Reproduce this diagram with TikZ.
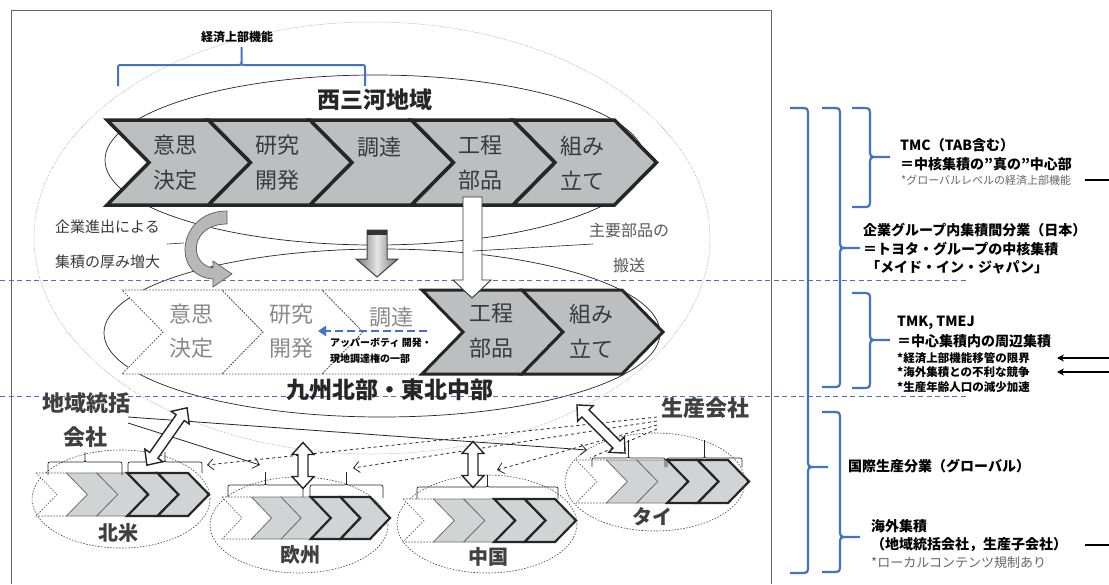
\documentclass[tikz,border=0pt]{standalone}
\usepackage{fontspec}
\setmainfont{Noto Sans CJK JP}
\usetikzlibrary{arrows.meta}
\definecolor{bl}{HTML}{4472C4}
\definecolor{chev}{HTML}{BDBEC0}
\definecolor{chevl}{HTML}{D2D3D5}
\definecolor{txt}{HTML}{3A3A3A}
\definecolor{ltxt}{HTML}{8A8A8A}
\newcommand{\myfs}[2]{\fontsize{#1}{#2}\selectfont}
\newcommand{\mychev}[6]{\filldraw[#1] (#2,#3) -- ({#2+#5},#3) -- ({#2+#5+#6},{(#3+#4)/2}) -- ({#2+#5},#4) -- (#2,#4) -- ({#2+#6},{(#3+#4)/2}) -- cycle;}
\newcommand{\regstrip}[5]{%
 \mychev{dotchev}{#1}{#2}{#3}{#4}{#5}
 \mychev{thinchev}{#1+#4}{#2}{#3}{#4}{#5}
 \mychev{thinchev}{#1+2*#4}{#2}{#3}{#4}{#5}
 \mychev{thickchev}{#1+3*#4}{#2}{#3}{#4}{#5}
 \mychev{thickchev}{#1+4*#4}{#2}{#3}{#4}{#5}}
\newcommand{\smallbrace}[6]{\draw[#1] (#2,#4) -- (#2,{#5+4}) .. controls (#2,#5) .. ({#2+4},#5) -- ({(#2+#3)/2-4},#5) .. controls ({(#2+#3)/2},#5) .. ({(#2+#3)/2},{#5-4}) -- ({(#2+#3)/2},#6) -- ({(#2+#3)/2},{#5-4}) .. controls ({(#2+#3)/2},#5) .. ({(#2+#3)/2+4},#5) -- ({#3-4},#5) .. controls (#3,#5) .. (#3,{#5+4}) -- (#3,#4);}
\newcommand{\sidebrace}[5]{\draw[sbr] ({#1-18},#2) -- ({#1-8},#2) .. controls (#1,#2) .. (#1,{#2+8}) -- (#1,{#4-8}) .. controls (#1,#4) .. ({#1+8},#4) -- (#5,#4) -- ({#1+8},#4) .. controls (#1,#4) .. (#1,{#4+8}) -- (#1,{#3-8}) .. controls (#1,#3) .. ({#1-8},#3) -- ({#1-18},#3);}
\newcommand{\dblarr}[4]{\begin{scope}[shift={(#1,#2)},rotate=#3]
 \filldraw[fill=white,draw=black!85,line width=1.4pt,line join=miter] ({-#4/2},0) -- ({-#4/2+12},11) -- ({-#4/2+12},5) -- ({#4/2-12},5) -- ({#4/2-12},11) -- ({#4/2},0) -- ({#4/2-12},-11) -- ({#4/2-12},-5) -- ({-#4/2+12},-5) -- ({-#4/2+12},-11) -- cycle;
\end{scope}}
\begin{document}
\begin{tikzpicture}[x=1pt,y=-1pt,
  every node/.style={inner sep=0pt},
  upchev/.style={fill=chev,draw=black!85,line width=3.5pt,line join=miter},
  lochev/.style={fill=chev,draw=black!85,line width=3pt,line join=miter},
  lodot/.style={fill=white,draw=black!70,line width=0.8pt,dash pattern=on 1.5pt off 1.5pt},
  dotchev/.style={fill=white,draw=black!70,line width=0.6pt,dash pattern=on 1.5pt off 1.5pt},
  thinchev/.style={fill=chevl,draw=black!55,line width=0.8pt,line join=miter},
  thickchev/.style={fill=chevl,draw=black!85,line width=2.2pt,line join=miter},
  ct/.style={font=\myfs{22}{35},text=txt,align=center},
  lct/.style={font=\myfs{22}{34},text=ltxt,align=center},
  rt/.style={anchor=west,font=\bfseries\myfs{14}{16},text=black},
  rts/.style={anchor=west,font=\bfseries\myfs{11.5}{13},text=black},
  reg/.style={font=\bfseries\myfs{20}{22},text=black!75},
  lab/.style={font=\bfseries\myfs{22}{24},text=black!75},
  big/.style={font=\bfseries\myfs{23}{25},text=black!85},
  sbr/.style={bl,line width=2.2pt},
  bdash/.style={bl,line width=0.9pt,dash pattern=on 5pt off 3.5pt},
  rell/.style={draw=black!75,line width=0.6pt,dash pattern=on 1.5pt off 1.5pt},
  barb/.style={-{Straight Barb[length=6pt,width=11pt]}}
]
\useasboundingbox (0,0) rectangle (1109,584);
\fill[white] (0,0) rectangle (1109,584);
% frame
\draw[black!60,line width=0.9pt] (11,584) -- (11,10) -- (771,10) -- (771,584);
% big dotted ellipse
\draw[black!45,line width=0.5pt,densely dotted] (372,238) ellipse [x radius=338pt,y radius=216pt];
% upper / lower ellipses
\draw[black!85,line width=0.7pt] (375,160) ellipse [x radius=270pt,y radius=85pt];
\draw[black!85,line width=0.7pt] (382,333) ellipse [x radius=278pt,y radius=84pt];
% blue dashed separators
\draw[bdash] (0,280) -- (967,280);
\draw[bdash] (0,396) -- (967,396);

% top brace + label
\smallbrace{bl,line width=2pt}{118}{365}{86}{65}{47}
\node[font=\bfseries\myfs{12}{14}] (keizai) at (237,37) {経済上部機能};
\node[big] (nishi) at (375,100) {西三河地域};

% upper chevrons
\foreach \i in {0,...,4}{\mychev{upchev}{107+\i*101.5}{120}{205}{101.5}{42}}
\node[ct] (u1) at (175,163) {意思\\決定};
\node[ct] (u2) at (277,163) {研究\\開発};
\node[ct] (u3) at (379,147) {調達};
\node[ct] (u4) at (480,163) {工程\\部品};
\node[ct] (u5) at (582,163) {組み\\立て};

% lower chevrons
\foreach \i in {0,1,2}{\mychev{lodot}{122+\i*100}{290}{374}{100}{41}}
\foreach \i in {3,4}{\mychev{lochev}{122+\i*100}{290}{374}{100}{41}}
\node[lct] (l1) at (191,331) {意思\\決定};
\node[lct] (l2) at (291,331) {研究\\開発};
\node[lct] (l3) at (391,317) {調達};
\node[ct] (l4) at (491,331) {工程\\部品};
\node[ct] (l5) at (591,331) {組み\\立て};
\node[big] (kyushu) at (390,390) {九州北部・東北中部};

% blue dashed arrow and its label
\coordinate (ba1) at (427,331);
\coordinate (ba2) at (318,331);
\draw[bl,line width=2.6pt,dash pattern=on 8pt off 4pt,-{Triangle[length=8pt,width=10pt]}] (ba1) -- (ba2);
\node[anchor=west,font=\bfseries\myfs{10}{16},align=left] (upper) at (330,351) {アッパーボティ 開発・\\現地調達権の一部};

% curved arrow
\filldraw[fill=black!28,draw=black!65,line width=0.7pt] (227,211) .. controls (178,211) and (170,276) .. (213,279) -- (213,287) -- (232,274) -- (213,261) -- (213,268) .. controls (188,264) and (190,224) .. (227,224) -- cycle;
\node[anchor=west,font=\myfs{15}{17},text=txt] (kigyo) at (55,227) {企業進出による};
\node[anchor=west,font=\myfs{15}{17},text=txt] (atsumi) at (55,262) {集積の厚み増大};
\coordinate (kl1) at (167,244);
\coordinate (kl2) at (184,243);
\draw[black!80,line width=0.6pt] (kl1) -- (kl2);

% gray down arrow
\shadedraw[draw=black!75,line width=1pt,left color=black!55,right color=black!55,middle color=black!10,line join=miter] (367,230) -- (387,230) -- (387,259) -- (398,259) -- (377,277) -- (356,259) -- (367,259) -- cycle;
\fill[black!80] (367,230) rectangle (387,235);
% white down arrow
\filldraw[fill=white,draw=black!80,line width=0.9pt,line join=miter] (463,197) -- (482,197) -- (482,280) -- (491,280) -- (472,298) -- (453,280) -- (463,280) -- cycle;

% main parts transport
\node[font=\myfs{16}{18},text=black!65] (shuyo) at (629,230) {主要部品の};
\node[font=\myfs{16}{18},text=black!65] (hanso) at (629,265) {搬送};
\coordinate (sl1) at (473,251);
\coordinate (sl2) at (593,244);
\draw[black!85,line width=0.6pt] (sl1) -- (sl2);

% ---------------- lower (global) section ----------------
\draw[rell] (121,499) ellipse [x radius=89pt,y radius=49pt];
\draw[rell] (299,525) ellipse [x radius=89pt,y radius=48pt];
\draw[rell] (487,524) ellipse [x radius=90pt,y radius=49pt];
\draw[rell] (655,482) ellipse [x radius=90pt,y radius=49pt];

\regstrip{36}{473}{516}{30.4}{21}
\regstrip{222}{497}{539}{29.6}{20}
\regstrip{403}{499}{542}{30.4}{21}
\regstrip{576}{460}{503}{30.4}{21}

\smallbrace{black!85,line width=0.7pt}{48}{122}{475}{462}{452}
\smallbrace{black!85,line width=0.7pt}{128}{202}{473}{462}{452}
\smallbrace{black!85,line width=0.7pt}{228}{303}{497}{485}{472}
\smallbrace{black!85,line width=0.7pt}{310}{383}{498}{485}{472}
\smallbrace{black!85,line width=0.7pt}{417}{558}{499}{487}{475}
\smallbrace{black!85,line width=0.7pt}{592}{665}{467}{458}{440}
\smallbrace{black!85,line width=0.7pt}{667}{742}{467}{458}{440}

\node[reg] (na) at (118,533) {北米};
\node[reg] (eu) at (300,555) {欧州};
\node[reg] (cn) at (488,557) {中国};
\node[reg] (th) at (652,517) {タイ};
\node[lab] (chiiki) at (86,403) {地域統括};
\node[lab] (kaisha) at (85,437) {会社};
\node[lab] (seisan) at (705,408) {生産会社};

% lines from regional HQ
\coordinate (h1) at (128,417);
\coordinate (h2) at (128,423);
\coordinate (t1) at (587,450);
\coordinate (t2) at (260,465);
\draw[black!85,line width=0.8pt,barb] (h1) -- (t1);
\draw[black!85,line width=0.8pt,barb] (h2) -- (t2);
% dashed lines from production company
\coordinate (p1) at (657,417);
\coordinate (p2) at (657,421);
\coordinate (p3) at (657,425);
\coordinate (p4) at (657,429);
\coordinate (d1) at (207,465);
\coordinate (d2) at (353,468);
\coordinate (d3) at (497,470);
\coordinate (d4) at (590,458);
\draw[black!85,line width=0.8pt,dashed,barb] (p1) -- (d1);
\draw[black!85,line width=0.8pt,dashed,barb] (p2) -- (d2);
\draw[black!85,line width=0.8pt,dashed,barb] (p3) -- (d3);
\draw[black!85,line width=0.8pt,dashed] (p4) -- (d4);

% double arrows
\dblarr{167}{436.5}{55}{70}
\dblarr{303}{465.5}{90}{46}
\dblarr{473}{464.5}{90}{46}
\dblarr{601}{429}{-45}{68}

% ---------------- right side ----------------
\sidebrace{808}{108}{573}{467}{828}
\sidebrace{840}{108}{387}{248}{860}
\sidebrace{870}{108}{207}{157}{890}
\sidebrace{870}{293}{388}{340}{890}
\sidebrace{840}{412}{572}{537}{860}

\node[rt] (tmc) at (900,145) {TMC（TAB含む）};
\node[rt] (tmc2) at (900,164) {＝中核集積の”真の”中心部};
\node[anchor=west,font=\myfs{11}{13},text=black!60] (tmc3) at (901,180) {*グローバルレベルの経済上部機能};
\coordinate (e1a) at (1085,180);
\coordinate (e1b) at (1109,180);
\draw[black,line width=1.8pt] (e1a) -- (e1b);

\node[rt] (grp1) at (863,230) {企業グループ内集積間分業（日本）};
\node[rt] (grp2) at (863,249) {＝トヨタ・グループの中核集積};
\node[rt] (grp3) at (866,267) {「メイド・イン・ジャパン」};

\node[rt] (tmk1) at (897,323) {TMK, TMEJ};
\node[rt] (tmk2) at (897,341) {＝中心集積内の周辺集積};
\node[rts] (tmk3) at (897,358) {*経済上部機能移管の限界};
\node[rts] (tmk4) at (897,372) {*海外集積との不利な競争};
\node[rts] (tmk5) at (897,387) {*生産年齢人口の減少加速};
\coordinate (a1s) at (1109,358);
\coordinate (a1e) at (1057,358);
\coordinate (a2s) at (1109,372);
\coordinate (a2e) at (1057,372);
\draw[black,line width=1.5pt,-{Stealth[length=7pt,width=7pt]}] (a1s) -- (a1e);
\draw[black,line width=1.5pt,-{Stealth[length=7pt,width=7pt]}] (a2s) -- (a2e);

\node[rt] (glob) at (848,466) {国際生産分業（グローバル）};
\node[rt] (kaigai1) at (871,526) {海外集積};
\node[rt] (kaigai2) at (871,545) {（地域統括会社，生産子会社）};
\node[anchor=west,font=\myfs{13}{15},text=black!60] (kaigai3) at (871,563) {*ローカルコンテンツ規制あり};
\coordinate (e2a) at (1085,545);
\coordinate (e2b) at (1109,545);
\draw[black,line width=1.8pt] (e2a) -- (e2b);
\end{tikzpicture}
\end{document}
